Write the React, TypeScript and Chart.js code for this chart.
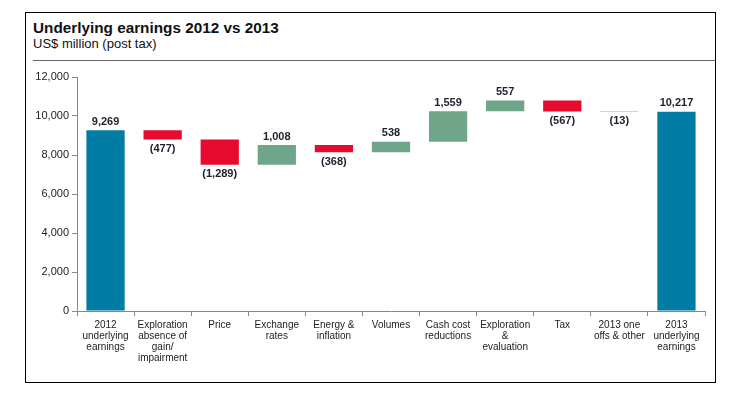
import React, { useEffect, useRef } from "react";
import { Chart, registerables } from "chart.js";

Chart.register(...registerables);

const categories: string[][] = [
  ["2012", "underlying", "earnings"],
  ["Exploration", "absence of", "gain/", "impairment"],
  ["Price"],
  ["Exchange", "rates"],
  ["Energy &", "inflation"],
  ["Volumes"],
  ["Cash cost", "reductions"],
  ["Exploration", "&", "evaluation"],
  ["Tax"],
  ["2013 one", "offs & other"],
  ["2013", "underlying", "earnings"],
];

// changes (first and last are totals)
const values: number[] = [9269, -477, -1289, 1008, -368, 538, 1559, 557, -567, -13, 10217];
const isTotal: boolean[] = [true, false, false, false, false, false, false, false, false, false, true];
const yTicks: number[] = [0, 2000, 4000, 6000, 8000, 10000, 12000];

const BLUE = "#017ca4";
const RED = "#e60b2e";
const GREEN = "#6fa588";

function fmt(v: number): string {
  const s = Math.abs(v).toLocaleString("en-US");
  return v < 0 ? `(${s})` : s;
}

export default function App() {
  const ref = useRef<HTMLCanvasElement | null>(null);

  useEffect(() => {
    if (!ref.current) return;
    let running = 0;
    const ranges: [number, number][] = values.map((v, i) => {
      if (isTotal[i]) {
        running = v;
        return [0, v];
      }
      const start = running;
      running += v;
      return [Math.min(start, running), Math.max(start, running)];
    });
    const colors = values.map((v, i) => (isTotal[i] ? BLUE : v < 0 ? RED : GREEN));

    const labelPlugin = {
      id: "wfLabels",
      afterDatasetsDraw(chart: any) {
        const ctx = chart.ctx;
        const meta = chart.getDatasetMeta(0);
        const y = chart.scales.y;
        ctx.save();
        ctx.font = "bold 11px 'Liberation Sans', Arial, sans-serif";
        ctx.fillStyle = "#1f1f2e";
        ctx.textAlign = "center";
        meta.data.forEach((bar: any, i: number) => {
          const v = values[i];
          const [lo, hi] = ranges[i];
          if (v >= 0) {
            ctx.textBaseline = "bottom";
            ctx.fillText(fmt(v), bar.x, y.getPixelForValue(hi) - 3);
          } else {
            ctx.textBaseline = "top";
            ctx.fillText(fmt(v), bar.x, y.getPixelForValue(lo) + 4);
          }
        });
        ctx.restore();
      },
    };

    const chart = new Chart(ref.current, {
      type: "bar",
      data: {
        labels: categories,
        datasets: [
          {
            data: ranges as any,
            backgroundColor: colors,
            borderWidth: 0,
            barPercentage: 0.67,
            categoryPercentage: 1,
          },
        ],
      },
      options: {
        animation: false,
        responsive: false,
        maintainAspectRatio: false,
        layout: { padding: { top: 12, right: 5, left: 0, bottom: 0 } },
        plugins: { legend: { display: false }, tooltip: { enabled: false }, title: { display: false } },
        scales: {
          x: {
            offset: true,
            grid: { drawOnChartArea: false, offset: true, tickLength: 5, color: "#888" },
            border: { color: "#888" },
            ticks: {
              maxRotation: 0,
              autoSkip: false,
              color: "#222",
              padding: 4,
              font: { family: "'Liberation Sans', Arial, sans-serif", size: 10, lineHeight: 1.1 },
            },
            afterFit: (s: any) => {
              s.height = 69;
            },
          },
          y: {
            min: 0,
            max: 12000,
            afterBuildTicks: (s: any) => {
              s.ticks = yTicks.map((v) => ({ value: v }));
            },
            grid: { drawOnChartArea: false, tickLength: 5, color: "#888" },
            border: { color: "#888" },
            ticks: {
              color: "#222",
              padding: 3,
              font: { family: "'Liberation Sans', Arial, sans-serif", size: 11 },
              callback: (v: any) => Number(v).toLocaleString("en-US"),
            },
            afterFit: (s: any) => {
              s.width = 47;
            },
          },
        },
      },
      plugins: [labelPlugin],
    });
    return () => chart.destroy();
  }, []);

  return (
    <div style={{ position: "fixed", left: 0, top: 0, width: 744, height: 407, background: "#fff" }}>
      <div
        style={{
          position: "absolute",
          left: 25,
          top: 12,
          width: 689,
          height: 369,
          border: "1px solid #000",
        }}
      />
      <div
        style={{
          position: "absolute",
          left: 33,
          top: 19,
          fontFamily: "'Liberation Sans', Arial, sans-serif",
          fontWeight: "bold",
          fontSize: 15.3,
          color: "#111",
        }}
      >
        Underlying earnings 2012 vs 2013
      </div>
      <div
        style={{
          position: "absolute",
          left: 33,
          top: 36,
          fontFamily: "'Liberation Sans', Arial, sans-serif",
          fontSize: 13,
          color: "#111",
        }}
      >
        US$ million (post tax)
      </div>
      <div style={{ position: "absolute", left: 33, top: 60, width: 682, height: 1, background: "#666" }} />
      <canvas ref={ref} width={680} height={315} style={{ position: "absolute", left: 30, top: 65, width: 680, height: 315 }} />
    </div>
  );
}
